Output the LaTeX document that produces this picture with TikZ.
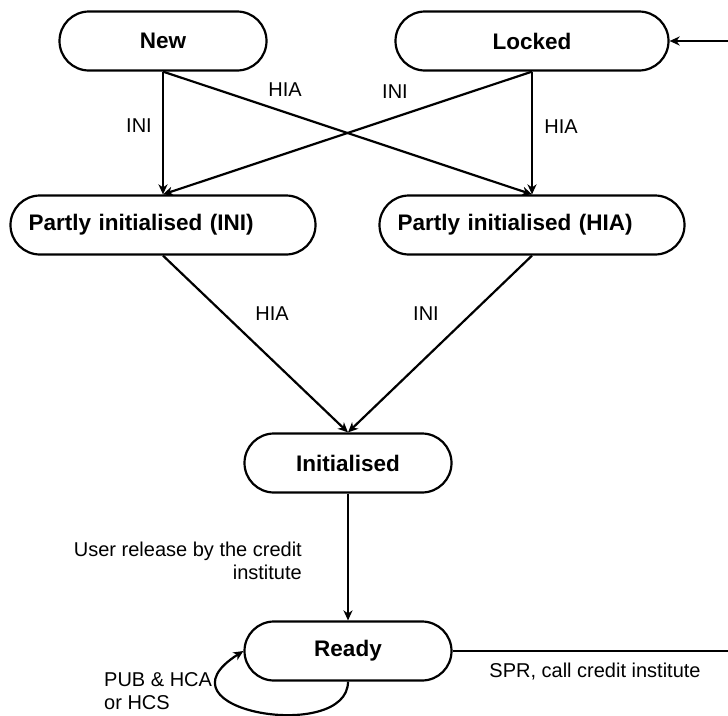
\documentclass[tikz,border=0pt]{standalone}
\usepackage{fontspec}
\setmainfont{Liberation Sans}
\usetikzlibrary{shapes.misc,arrows.meta,positioning,calc}

\begin{document}
\begin{tikzpicture}[
  x=1pt, y=-1pt,
  state/.style={rounded rectangle, draw, line width=2.2pt, minimum height=59pt, inner sep=0pt, font=\fontsize{22.5}{26}\selectfont\bfseries},
  partly/.style={state, minimum width=305pt, text width=269pt, align=left},
  arrow/.style={-{Stealth[length=10pt,width=9pt,inset=3pt]}, line width=2.2pt},
  edgelabel/.style={font=\fontsize{20}{23}\selectfont, inner sep=0pt}
]
\useasboundingbox (0,0) rectangle (728,715);

% states
\node[state, minimum width=207pt] (new) at (163,41) {New};
\node[state, minimum width=273pt] (locked) at (532,41) {Locked};
\node[partly] (pini) at (163,225) {Partly initialised (INI)};
\node[partly] (phia) at (532,225) {Partly initialised (HIA)};
\node[state, minimum width=207pt] (init) at (348,463) {Initialised};
\node[state, minimum width=207pt] (ready) at (348,651) {Ready};

% transitions
\draw[arrow] (new.south) -- (pini.north);
\draw[arrow] (new.south) -- (phia.north);
\draw[arrow] (locked.south) -- (phia.north);
\draw[arrow] (locked.south) -- (pini.north);
\draw[arrow] (pini.south) -- (init.north);
\draw[arrow] (phia.south) -- (init.north);
\draw[arrow] (init.south) -- (ready.north);
\coordinate (rim) at (745,41);
\draw[arrow] (ready.east) -| (rim) -- (locked.east);
\draw[arrow] (ready.south) .. controls +(0,62) and +(-95,60) .. (ready.west);

% labels
\node[edgelabel] (lini) at (139,126) {INI};
\node[edgelabel] (lhia) at (285,90) {HIA};
\node[edgelabel] (rini) at (395,92) {INI};
\node[edgelabel] (rhia) at (561,127) {HIA};
\node[edgelabel] (mhia) at (272,314) {HIA};
\node[edgelabel] (mini) at (426,314) {INI};
\node[edgelabel, anchor=east, align=right] (lrelease) at (302,561) {User release by the credit\\institute};
\node[edgelabel] (lspr) at (595,672) {SPR, call credit institute};
\node[edgelabel, anchor=west, align=left] (lpub) at (104,691) {PUB \& HCA\\or HCS};

\end{tikzpicture}
\end{document}
